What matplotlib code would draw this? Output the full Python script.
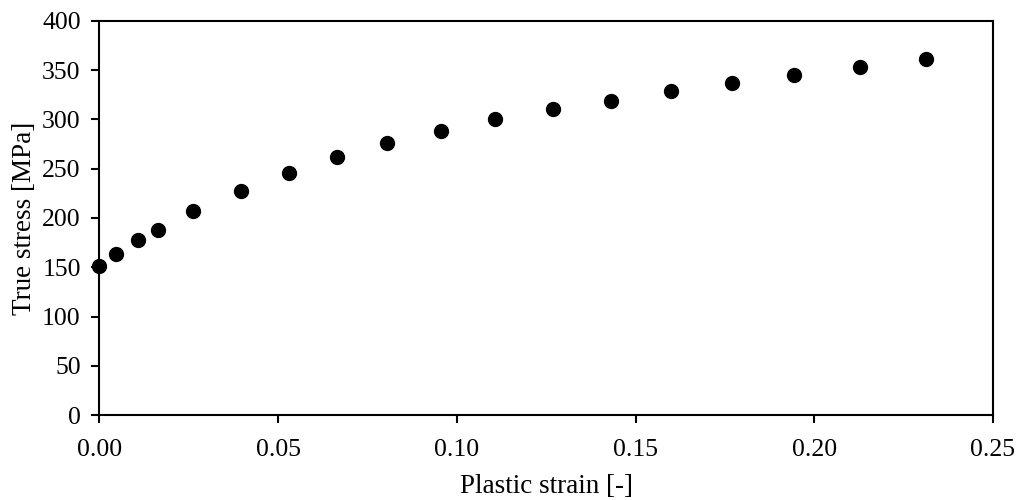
import matplotlib.pyplot as plt

plastic_strain = [0.0000, 0.0045, 0.0107, 0.0163, 0.0262, 0.0397, 0.0530, 0.0665, 0.0805,
                  0.0956, 0.1107, 0.1268, 0.1430, 0.1598, 0.1771, 0.1944, 0.2128, 0.2313]
true_stress = [151.0, 163.1, 177.4, 187.5, 207.4, 227.7, 246.0, 262.2, 276.4,
               288.6, 300.8, 311.0, 319.1, 329.2, 337.4, 345.2, 353.6, 361.4]

x_ticks = [0.00, 0.05, 0.10, 0.15, 0.20, 0.25]
y_ticks = [0, 50, 100, 150, 200, 250, 300, 350, 400]

plt.rcParams['font.family'] = ['Liberation Serif', 'DejaVu Serif']

fig = plt.figure(figsize=(10.18, 5.0), dpi=100)
ax = fig.add_axes([0.0977, 0.17, 0.8777, 0.788])

ax.plot(plastic_strain, true_stress, 'o', color='black', markersize=10, clip_on=False, zorder=3)

ax.set_xlim(0, 0.25)
ax.set_ylim(0, 400)
ax.set_xticks(x_ticks)
ax.set_xticklabels([f'{t:.2f}' for t in x_ticks])
ax.set_yticks(y_ticks)

for s in ax.spines.values():
    s.set_linewidth(1.5)
ax.tick_params(direction='out', length=5.5, width=1.5, labelsize=18.5, top=False, right=False)
ax.tick_params(axis='x', pad=12)
ax.tick_params(axis='y', pad=8)

ax.set_xlabel('Plastic strain [-]', fontsize=19.5, labelpad=9)
ax.set_ylabel('True stress [MPa]', fontsize=19.5, labelpad=3.5)

fig.savefig('out.png', dpi=100)
